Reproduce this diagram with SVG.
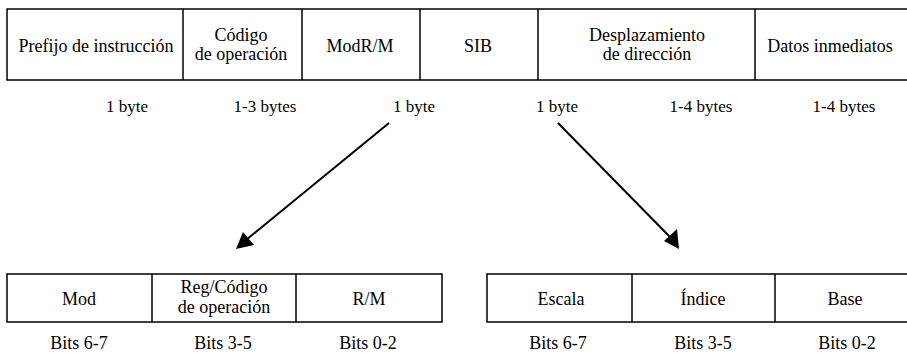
<svg xmlns="http://www.w3.org/2000/svg" width="907" height="354" viewBox="0 0 907 354">
<defs>
<style>
.box{fill:#fff;stroke:#000;stroke-width:1.5}
.div{stroke:#000;stroke-width:1.5}
.txt text{fill:#000;text-anchor:middle}
.t{font-size:18px}
.b{font-size:17px}
.conn{stroke:#000;stroke-width:2;fill:none}
</style>
</defs>
<rect width="907" height="354" fill="#fff"/>
<g id="top-format">
<rect class="box" x="7" y="9" width="905" height="71"/>
<line class="div" x1="183" y1="9" x2="183" y2="80"/>
<line class="div" x1="302" y1="9" x2="302" y2="80"/>
<line class="div" x1="420" y1="9" x2="420" y2="80"/>
<line class="div" x1="538" y1="9" x2="538" y2="80"/>
<line class="div" x1="755" y1="9" x2="755" y2="80"/>
</g>
<g class="txt" font-family="'Liberation Serif', 'DejaVu Serif', serif">
<g id="prefijo"><text class="t" x="96" y="52">Prefijo de instrucción</text><text class="b" x="127" y="112">1 byte</text></g>
<g id="codigo"><text class="t" x="241" y="41">Código</text><text class="t" x="241" y="60">de operación</text><text class="b" x="265" y="112">1-3 bytes</text></g>
<g id="modrm"><text class="t" x="360" y="52">ModR/M</text><text class="b" x="414" y="112">1 byte</text></g>
<g id="sib"><text class="t" x="478" y="52">SIB</text><text class="b" x="557" y="112">1 byte</text></g>
<g id="desplazamiento"><text class="t" x="647" y="41">Desplazamiento</text><text class="t" x="647" y="60">de dirección</text><text class="b" x="701" y="112">1-4 bytes</text></g>
<g id="datos"><text class="t" x="830" y="52">Datos inmediatos</text><text class="b" x="844" y="112">1-4 bytes</text></g>
</g>
<g id="modrm-detail">
<rect class="box" x="7" y="274" width="435" height="48"/>
<line class="div" x1="152" y1="274" x2="152" y2="322"/>
<line class="div" x1="296" y1="274" x2="296" y2="322"/>
<g class="txt" font-family="'Liberation Serif', 'DejaVu Serif', serif">
<g id="mod"><text class="t" x="79" y="305">Mod</text><text class="t" x="79" y="349">Bits 6-7</text></g>
<g id="reg"><text class="t" x="224" y="293">Reg/Código</text><text class="t" x="224" y="313">de operación</text><text class="t" x="223" y="349">Bits 3-5</text></g>
<g id="rm"><text class="t" x="369" y="305">R/M</text><text class="t" x="368" y="349">Bits 0-2</text></g>
</g>
</g>
<g id="sib-detail">
<rect class="box" x="487" y="274" width="425" height="48"/>
<line class="div" x1="632" y1="274" x2="632" y2="322"/>
<line class="div" x1="775" y1="274" x2="775" y2="322"/>
<g class="txt" font-family="'Liberation Serif', 'DejaVu Serif', serif">
<g id="escala"><text class="t" x="561" y="305">Escala</text><text class="t" x="558" y="349">Bits 6-7</text></g>
<g id="indice"><text class="t" x="703" y="305">Índice</text><text class="t" x="703" y="349">Bits 3-5</text></g>
<g id="base"><text class="t" x="845" y="305">Base</text><text class="t" x="847" y="349">Bits 0-2</text></g>
</g>
</g>
<g id="connectors">
<line class="conn" x1="389" y1="123" x2="246" y2="240"/>
<polygon points="236,249 243,232 254,245" fill="#000"/>
<line class="conn" x1="558" y1="123" x2="671" y2="238"/>
<polygon points="679,249 664,241 677,229" fill="#000"/>
</g>
</svg>
